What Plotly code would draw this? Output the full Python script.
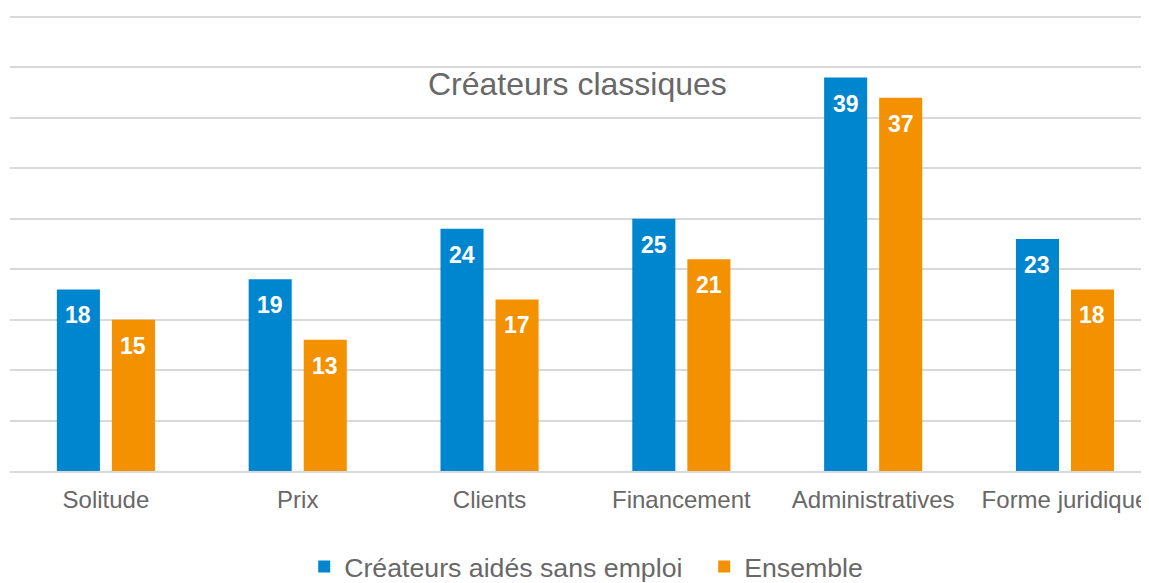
import plotly.graph_objects as go

# data
categories = ['Solitude', 'Prix', 'Clients', 'Financement', 'Administratives', 'Forme juridique']
aides_sans_emploi = [18, 19, 24, 25, 39, 23]
ensemble = [15, 13, 17, 21, 37, 18]

series_names = ['Créateurs aidés sans emploi', 'Ensemble']
colors = ['#0086CF', '#F39100']
text_grey = '#686868'

fig = go.Figure()
fig.add_trace(go.Bar(x=categories, y=aides_sans_emploi, name=series_names[0],
                     marker=dict(color=colors[0], line=dict(width=0))))
fig.add_trace(go.Bar(x=categories, y=ensemble, name=series_names[1],
                     marker=dict(color=colors[1], line=dict(width=0))))

# value labels, placed just under the top of each bar
for vals, shift in [(aides_sans_emploi, -27.5), (ensemble, 27.5)]:
    for cat, v in zip(categories, vals):
        fig.add_annotation(x=cat, y=v, xshift=shift, yshift=-26, text=str(v),
                           showarrow=False, yanchor='middle',
                           font=dict(family='Liberation Sans', size=23, color='white', weight='bold'))

fig.add_annotation(x=0.498, xref='paper', y=0.85, yref='paper', text='Créateurs classiques',
                   showarrow=False, yanchor='middle',
                   font=dict(family='Liberation Sans', size=32, color=text_grey))

# page body has an 8px margin, so the figure is sized/offset to fit the window
fig.update_layout(
    width=1141, height=575,
    margin=dict(l=2, r=0, t=8, b=112, autoexpand=False),
    paper_bgcolor='white', plot_bgcolor='white',
    barmode='group', bargap=0.426, bargroupgap=0.218,
    font=dict(family='Liberation Sans', color=text_grey),
    showlegend=True,
    legend=dict(orientation='h', x=0.2583, xanchor='left', y=-0.21, yanchor='middle',
                font=dict(size=26.7, color=text_grey), itemwidth=30,
                entrywidth=355, entrywidthmode='pixels'),
)
fig.update_xaxes(range=[-0.5, 5.438], showgrid=False, showline=True, linecolor='#d9d9d9',
                 linewidth=1.5, ticks='', tickfont=dict(size=24, color=text_grey),
                 ticklabelstandoff=6, automargin=False)
fig.update_yaxes(range=[0, 45.1], dtick=5, showgrid=True, gridcolor='#d9d9d9', gridwidth=1.5,
                 showticklabels=False, zeroline=False, automargin=False)

fig.write_html('out.html')
